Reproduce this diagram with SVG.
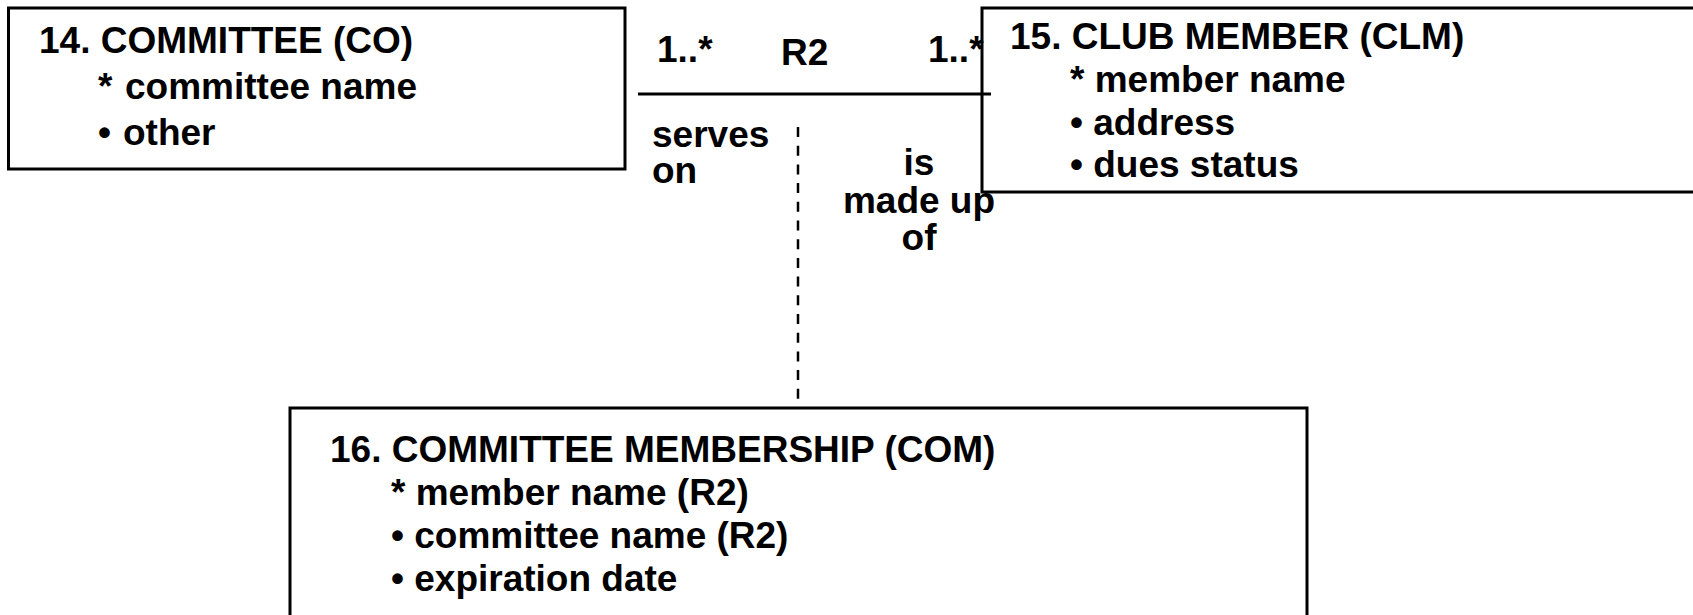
<svg xmlns="http://www.w3.org/2000/svg" width="1693" height="615" viewBox="0 0 1693 615">
<style>
  .box { fill: #ffffff; stroke: #000000; stroke-width: 3; }
  .t { font-family: "Liberation Sans", Arial, sans-serif; font-weight: bold; font-size: 37px; fill: #000000; }
  .line { stroke: #000000; stroke-width: 3; fill: none; }
  .dash { stroke: #000000; stroke-width: 2.5; stroke-dasharray: 10 8.7; fill: none; }
</style>
<rect width="1693" height="615" fill="#ffffff"/>
<g id="node-committee">
  <rect class="box" x="8.5" y="8" width="616.5" height="161"/>
  <text class="t" x="39" y="53">14. COMMITTEE (CO)</text>
  <text class="t" y="99"><tspan x="98">*</tspan><tspan x="125">committee name</tspan></text>
  <text class="t" y="145"><tspan x="98">•</tspan><tspan x="123">other</tspan></text>
</g>
<g id="node-club-member">
  <rect class="box" x="982" y="8" width="720" height="184"/>
  <text class="t" x="1010" y="49">15. CLUB MEMBER (CLM)</text>
  <text class="t" x="1070" y="92">* member name</text>
  <text class="t" x="1070" y="135">• address</text>
  <text class="t" x="1070" y="177">• dues status</text>
</g>
<g id="node-committee-membership">
  <rect class="box" x="290" y="408" width="1017" height="220"/>
  <text class="t" x="330" y="462">16. COMMITTEE MEMBERSHIP (COM)</text>
  <text class="t" x="391" y="505">* member name (R2)</text>
  <text class="t" x="391" y="548">• committee name (R2)</text>
  <text class="t" x="391" y="591">• expiration date</text>
</g>
<g id="connectors">
  <line class="line" x1="638" y1="94" x2="991" y2="94"/>
  <line class="dash" x1="798" y1="127" x2="798" y2="408"/>
  <text class="t" x="657" y="62">1..*</text>
  <text class="t" x="781" y="65">R2</text>
  <text class="t" x="928" y="62">1..*</text>
  <text class="t" x="652" y="147">serves</text>
  <text class="t" x="652" y="183">on</text>
  <text class="t" x="919" y="175" text-anchor="middle">is</text>
  <text class="t" x="919" y="213" text-anchor="middle">made up</text>
  <text class="t" x="919" y="250" text-anchor="middle">of</text>
</g>
</svg>
